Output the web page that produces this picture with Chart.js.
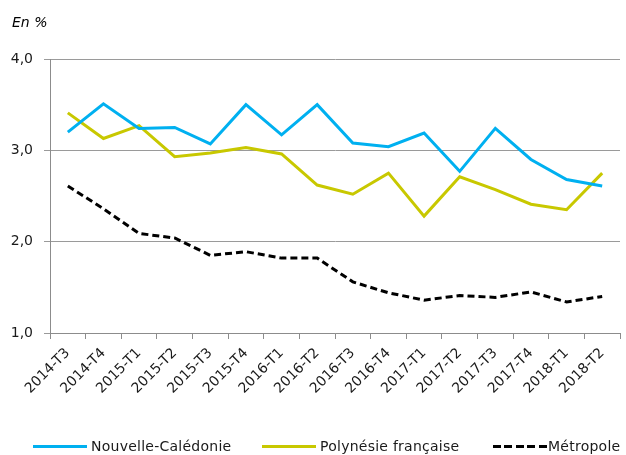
<!DOCTYPE html>
<html>
<head>
<meta charset="utf-8">
<script src="https://cdn.jsdelivr.net/npm/chart.js@4"></script>
<style>
html,body{margin:0;padding:0;background:#fff;}
#wrap{width:626px;height:455px;position:relative;font-family:'DejaVu Sans',Verdana,sans-serif;color:#1a1a1a;overflow:hidden;}
#c{position:absolute;left:0;top:0;}
#title{position:absolute;left:12px;top:14px;font-size:14px;font-style:italic;color:#000;white-space:nowrap;}
.lg{position:absolute;top:437px;height:18px;font-size:14px;line-height:18px;white-space:nowrap;letter-spacing:0.25px;}
.sw{position:absolute;top:8px;height:3px;}
.tx{position:absolute;top:0;}
</style>
</head>
<body>
<div id="wrap">
<canvas id="c" width="626" height="455"></canvas>
<div id="title">En %</div>
<div id="legend"></div>
</div>
<script>
const categories = ["2014-T3","2014-T4","2015-T1","2015-T2","2015-T3","2015-T4","2016-T1","2016-T2","2016-T3","2016-T4","2017-T1","2017-T2","2017-T3","2017-T4","2018-T1","2018-T2"];
const nouvelleCaledonie = [3.20,3.51,3.24,3.25,3.07,3.50,3.17,3.50,3.08,3.04,3.19,2.77,3.24,2.90,2.68,2.61];
const polynesieFrancaise = [3.41,3.13,3.27,2.93,2.97,3.03,2.96,2.62,2.52,2.75,2.28,2.71,2.57,2.41,2.35,2.75];
const metropole = [2.61,2.36,2.09,2.04,1.85,1.89,1.82,1.82,1.56,1.44,1.36,1.41,1.39,1.45,1.34,1.40];
const yTicks = [1,2,3,4];
const seriesNames = ["Nouvelle-Calédonie","Polynésie française","Métropole"];

const FONT = "'DejaVu Sans', Verdana, sans-serif";
Chart.defaults.font.family = FONT;
Chart.defaults.color = '#1a1a1a';

const styles = [
  {color: '#00B0F0', dash: []},
  {color: '#C8C800', dash: []},
  {color: '#000000', dash: [7,4]}
];
const seriesData = [nouvelleCaledonie, polynesieFrancaise, metropole];

// HTML legend (real text)
const legendPos = [{line: 33, text: 91}, {line: 262, text: 320}, {line: 493, text: 548}];
const legendEl = document.getElementById('legend');
seriesNames.forEach((name, i) => {
  const item = document.createElement('div');
  item.className = 'lg';
  item.style.left = legendPos[i].line + 'px';
  const sw = document.createElement('div');
  sw.className = 'sw';
  sw.style.left = '0px';
  sw.style.width = '54px';
  if (styles[i].dash.length) {
    sw.style.background = 'repeating-linear-gradient(90deg,' + styles[i].color + ' 0 8px, transparent 8px 11.5px)';
  } else {
    sw.style.background = styles[i].color;
  }
  const tx = document.createElement('span');
  tx.className = 'tx';
  tx.style.left = (legendPos[i].text - legendPos[i].line) + 'px';
  tx.textContent = name;
  item.appendChild(sw);
  item.appendChild(tx);
  legendEl.appendChild(item);
});

new Chart(document.getElementById('c'), {
  type: 'line',
  data: {
    labels: categories,
    datasets: seriesNames.map((name, i) => ({
      label: name, data: seriesData[i], borderColor: styles[i].color, backgroundColor: styles[i].color,
      borderWidth: 3, borderDash: styles[i].dash, pointRadius: 0, tension: 0
    }))
  },
  options: {
    responsive: false,
    animation: false,
    layout: {padding: {left: 0, right: 6, top: 59, bottom: 0}},
    plugins: {
      tooltip: {enabled: false},
      title: {display: false},
      legend: {display: false}
    },
    scales: {
      x: {
        offset: true,
        afterFit: (s) => { s.height = 122; },
        grid: {display: true, drawOnChartArea: false, drawTicks: true, tickLength: 6, offset: true, color: '#8c8c8c'},
        border: {display: true, color: '#8c8c8c', width: 1},
        ticks: {minRotation: 45, maxRotation: 45, autoSkip: false, font: {size: 14, family: FONT}, color: '#1a1a1a', padding: 6}
      },
      y: {
        min: 1, max: 4,
        afterBuildTicks: (s) => { s.ticks = yTicks.map(v => ({value: v})); },
        afterFit: (s) => { s.width = 50; },
        grid: {color: '#9a9a9a', tickLength: 6, lineWidth: 1},
        border: {display: true, color: '#8c8c8c'},
        ticks: {font: {size: 14, family: FONT}, color: '#1a1a1a', padding: 11,
          callback: (v) => Number(v).toFixed(1).replace('.', ',')}
      }
    }
  }
});
</script>
</body>
</html>
